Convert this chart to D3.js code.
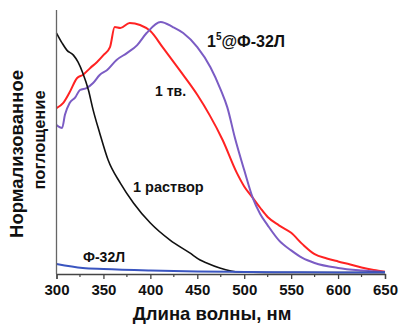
<!DOCTYPE html>
<html>
<head>
<meta charset="utf-8">
<script src="https://cdn.jsdelivr.net/npm/d3@7"></script>
<style>
  body { margin: 0; background: #fff; }
  svg text { font-family: "Liberation Sans", Arial, sans-serif; font-weight: bold; fill: #111; }
</style>
</head>
<body>
<div id="chart"></div>
<script>
// values (wavelength nm, normalized absorbance)
var solidWl  = [300, 307, 314, 322, 328, 336, 343, 350, 357, 362, 368, 378, 389, 400, 413, 431, 450, 463, 477, 492, 500, 509, 517, 525, 537, 550, 562, 575, 588, 600, 613, 625, 638, 650];
var solidVal = [0.657, 0.677, 0.72, 0.777, 0.789, 0.817, 0.84, 0.868, 0.90, 0.98, 0.976, 0.996, 0.988, 0.964, 0.90, 0.809, 0.71, 0.63, 0.53, 0.40, 0.345, 0.30, 0.26, 0.223, 0.19, 0.16, 0.115, 0.075, 0.058, 0.046, 0.034, 0.022, 0.012, 0.005];

var incWl  = [300, 306, 309, 314, 320, 325, 332, 339, 346, 354, 364, 375, 386, 396, 411, 424, 435, 450, 464, 475, 482, 490, 500, 509, 517, 525, 537, 550, 562, 575, 600, 625, 650];
var incVal = [0.59, 0.578, 0.63, 0.677, 0.70, 0.729, 0.737, 0.757, 0.789, 0.809, 0.849, 0.876, 0.908, 0.956, 1.0, 0.98, 0.956, 0.90, 0.82, 0.73, 0.66, 0.54, 0.41, 0.30, 0.235, 0.19, 0.13, 0.09, 0.06, 0.04, 0.02, 0.01, 0.004];

var solnWl  = [300, 306, 311, 318, 323, 328, 334, 339, 346, 355, 368, 382, 400, 421, 442, 453, 460, 474, 495, 550, 600, 650];
var solnVal = [0.956, 0.916, 0.888, 0.868, 0.84, 0.797, 0.729, 0.65, 0.558, 0.45, 0.358, 0.279, 0.199, 0.131, 0.08, 0.052, 0.04, 0.02, 0.004, 0.002, 0.002, 0.002];

var hostWl  = [300, 328, 350, 400, 450, 500, 550, 600, 650];
var hostVal = [0.036, 0.02, 0.016, 0.01, 0.006, 0.004, 0.003, 0.002, 0.002];

var xTicks = [300, 350, 400, 450, 500, 550, 600, 650];
var xMinor = [325, 375, 425, 475, 525, 575, 625];

var series = [
  {name: "1 тв.", wl: solidWl, val: solidVal, color: "#ff2222", w: 2},
  {name: "1⁵@Ф-32Л", wl: incWl, val: incVal, color: "#7b5cc4", w: 2},
  {name: "1 раствор", wl: solnWl, val: solnVal, color: "#111111", w: 1.6},
  {name: "Ф-32Л", wl: hostWl, val: hostVal, color: "#3a55c0", w: 2}
];

var width = 400, height = 324;

var x = d3.scaleLinear().domain([300, 650]).range([56.5, 385]);
var y = d3.scaleLinear().domain([0, 1]).range([273, 22]);

var svg = d3.select("#chart").append("svg")
  .attr("width", width)
  .attr("height", height);

var line = d3.line()
  .x(function(d) { return x(d[0]); })
  .y(function(d) { return y(d[1]); })
  .curve(d3.curveMonotoneX);

series.forEach(function(s) {
  svg.append("path")
    .datum(s.wl.map(function(w, i) { return [w, s.val[i]]; }))
    .attr("d", line)
    .attr("fill", "none")
    .attr("stroke", s.color)
    .attr("stroke-width", s.w)
    .attr("stroke-linejoin", "round");
});

// x axis with labels, minor ticks drawn separately
var xAxis = svg.append("g")
  .attr("transform", "translate(0,274)")
  .call(d3.axisBottom(x).tickValues(xTicks).tickSize(5).tickPadding(5).tickFormat(d3.format("d")));
xAxis.select(".domain").attr("stroke", "#444").attr("stroke-width", 1.3);
xAxis.selectAll(".tick line").attr("stroke", "#444").attr("stroke-width", 1.3);
xAxis.selectAll("text").style("font-size", "15px").attr("fill", "#111");

svg.append("g")
  .attr("transform", "translate(0,274)")
  .selectAll("line")
  .data(xMinor)
  .enter()
  .append("line")
  .attr("x1", function(d) { return x(d); })
  .attr("x2", function(d) { return x(d); })
  .attr("y1", 0)
  .attr("y2", 3)
  .attr("stroke", "#444")
  .attr("stroke-width", 1.2);

// y axis is just a line
svg.append("line")
  .attr("x1", x(300)).attr("x2", x(300))
  .attr("y1", 10).attr("y2", 274)
  .attr("stroke", "#666")
  .attr("stroke-width", 1.3);

svg.append("text")
  .attr("x", 212).attr("y", 320)
  .attr("text-anchor", "middle")
  .style("font-size", "18.5px")
  .text("Длина волны, нм");

svg.append("text")
  .attr("transform", "translate(22.5,154) rotate(-90)")
  .attr("text-anchor", "middle")
  .style("font-size", "18.5px")
  .text("Нормализованное");

svg.append("text")
  .attr("transform", "translate(45,140) rotate(-90)")
  .attr("text-anchor", "middle")
  .style("font-size", "16.5px")
  .text("поглощение");

// curve labels
var lbl = svg.append("text").attr("x", 207).attr("y", 47).style("font-size", "16px");
lbl.append("tspan").text("1");
lbl.append("tspan").attr("dy", -7).style("font-size", "10px").text("5");
lbl.append("tspan").attr("dy", 7).text("@Ф-32Л");

svg.append("text").attr("x", 155).attr("y", 96).style("font-size", "14px").text("1 тв.");
svg.append("text").attr("x", 133).attr("y", 192).style("font-size", "14.5px").text("1 раствор");
svg.append("text").attr("x", 83).attr("y", 262).style("font-size", "14px").text("Ф-32Л");
</script>
</body>
</html>
